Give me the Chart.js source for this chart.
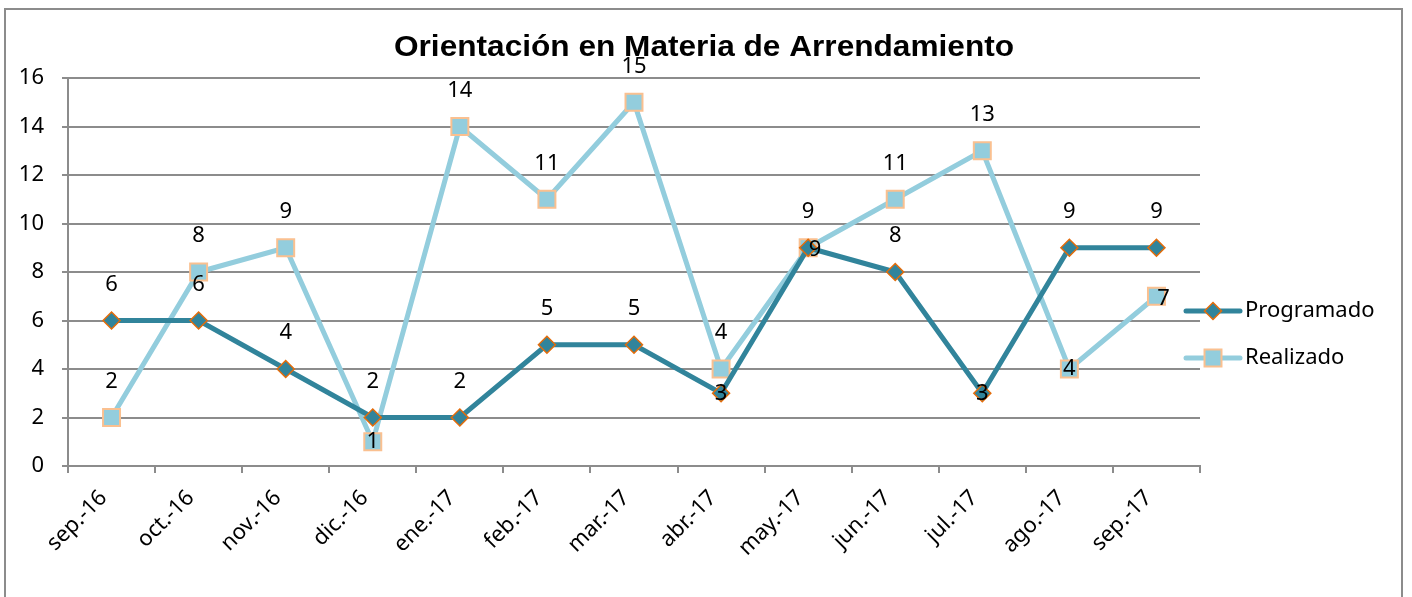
<!DOCTYPE html>
<html>
<head>
<meta charset="utf-8">
<script src="https://cdn.jsdelivr.net/npm/chart.js@4.4.1/dist/chart.umd.min.js"></script>
<style>
  html, body { margin: 0; padding: 0; background: #fff; overflow: hidden; }
  #wrap { position: relative; width: 1412px; height: 597px; }
  #frame { position: absolute; left: 4px; top: 8px; width: 1399px; height: 620px; border: 2px solid #8c8c8c; box-sizing: border-box; }
  canvas { position: absolute; left: 0; top: 0; }
</style>
</head>
<body>
<div id="wrap">
  <div id="frame"></div>
  <canvas id="chart" width="1412" height="597"></canvas>
</div>
<script>
const chartTitle = 'Orientación en Materia de Arrendamiento';
const months = ['sep.-16','oct.-16','nov.-16','dic.-16','ene.-17','feb.-17','mar.-17','abr.-17','may.-17','jun.-17','jul.-17','ago.-17','sep.-17'];
const programado = [6, 6, 4, 2, 2, 5, 5, 3, 9, 8, 3, 9, 9];
const realizado = [2, 8, 9, 1, 14, 11, 15, 4, 9, 11, 13, 4, 7];
// where each value label sits: a = above the point, c = on the point, r = on the point, nudged right
const programadoLabelPos = ['a','a','a','a','a','a','a','c','r','a','c','a','a'];
const realizadoLabelPos = ['a','a','a','c','a','a','a','a','a','a','a','c','r'];

const FONT = '"Noto Sans", "Open Sans", sans-serif';
const AXIS_GRAY = '#8c8c8c';

// title drawn by hand so it centres on the whole frame, not the plot
const frameTitle = {
    id: 'frameTitle',
    afterDraw(chart) {
        const ctx = chart.ctx;
        ctx.save();
        ctx.font = 'bold 29px "Liberation Sans", Arial, sans-serif';
        ctx.fillStyle = '#000';
        ctx.textAlign = 'center';
        ctx.textBaseline = 'middle';
        ctx.translate(704, 48);
        ctx.scale(1.09, 1);
        ctx.fillText(chartTitle, 0, 0);
        ctx.restore();
    }
};

// value labels drawn next to the points
const valueLabels = {
    id: 'valueLabels',
    afterDatasetsDraw(chart) {
        const ctx = chart.ctx;
        ctx.save();
        ctx.font = '22px ' + FONT;
        ctx.fillStyle = '#000';
        ctx.textAlign = 'center';
        ctx.textBaseline = 'middle';
        chart.data.datasets.forEach((ds, i) => {
            const meta = chart.getDatasetMeta(i);
            meta.data.forEach((pt, j) => {
                const pos = ds.labelPos[j];
                let x = pt.x, y = pt.y;
                if (pos === 'a') y -= 36;
                if (pos === 'r') { x += 7; y += 2; }
                ctx.fillText(String(ds.data[j]), x, y);
            });
        });
        ctx.restore();
    }
};

// legend on the right: line + marker + text, like the spreadsheet one
const sideLegend = {
    id: 'sideLegend',
    afterDraw(chart) {
        const ctx = chart.ctx;
        const x0 = 1186, x1 = 1240;
        chart.data.datasets.forEach((ds, i) => {
            const y = 311 + i * 47;
            ctx.save();
            ctx.strokeStyle = ds.borderColor;
            ctx.lineWidth = ds.borderWidth;
            ctx.lineCap = 'round';
            ctx.beginPath();
            ctx.moveTo(x0, y);
            ctx.lineTo(x1, y);
            ctx.stroke();
            ctx.fillStyle = ds.pointBackgroundColor;
            ctx.strokeStyle = ds.pointBorderColor;
            ctx.lineWidth = ds.pointBorderWidth;
            Chart.helpers.drawPoint(ctx, {
                pointStyle: ds.pointStyle,
                radius: ds.pointRadius,
                borderWidth: ds.pointBorderWidth
            }, (x0 + x1) / 2, y);
            ctx.font = '22px ' + FONT;
            ctx.fillStyle = '#000';
            ctx.textAlign = 'left';
            ctx.textBaseline = 'middle';
            ctx.fillText(ds.label, x1 + 5, y);
            ctx.restore();
        });
    }
};

new Chart(document.getElementById('chart'), {
    type: 'line',
    data: {
        labels: months,
        datasets: [
            {
                label: 'Programado', data: programado, labelPos: programadoLabelPos,
                borderColor: '#31849b', borderWidth: 5,
                pointStyle: 'rectRot', pointRadius: 8.5, pointHoverRadius: 8.5,
                pointBackgroundColor: '#31849b', pointBorderColor: '#e46c0a', pointBorderWidth: 1.5,
                tension: 0
            },
            {
                label: 'Realizado', data: realizado, labelPos: realizadoLabelPos,
                borderColor: '#93cddd', borderWidth: 5,
                pointStyle: 'rect', pointRadius: 12, pointHoverRadius: 12,
                pointBackgroundColor: '#93cddd', pointBorderColor: '#fac090', pointBorderWidth: 2,
                tension: 0
            }
        ]
    },
    options: {
        responsive: false,
        animation: false,
        events: [],
        layout: { padding: { left: 0, right: 212, top: 78, bottom: 0 } },
        plugins: {
            legend: { display: false },
            tooltip: { enabled: false },
            title: { display: false }
        },
        scales: {
            x: {
                offset: true,
                grid: { offset: true, drawOnChartArea: false, drawTicks: true, tickLength: 7, color: AXIS_GRAY, lineWidth: 2 },
                border: { color: AXIS_GRAY, width: 2 },
                ticks: { color: '#000', font: { family: FONT, size: 22 }, minRotation: 45, maxRotation: 45, padding: 12, labelOffset: -8, autoSkip: false },
                afterFit(scale) { scale.height = 131; }
            },
            y: {
                min: 0, max: 16,
                grid: { color: AXIS_GRAY, lineWidth: 2, tickLength: 6 },
                border: { color: AXIS_GRAY, width: 2 },
                ticks: { stepSize: 2, color: '#000', font: { family: FONT, size: 22 }, padding: 18 },
                afterFit(scale) { scale.width = 68; }
            }
        }
    },
    plugins: [valueLabels, sideLegend, frameTitle]
});
</script>
</body>
</html>
